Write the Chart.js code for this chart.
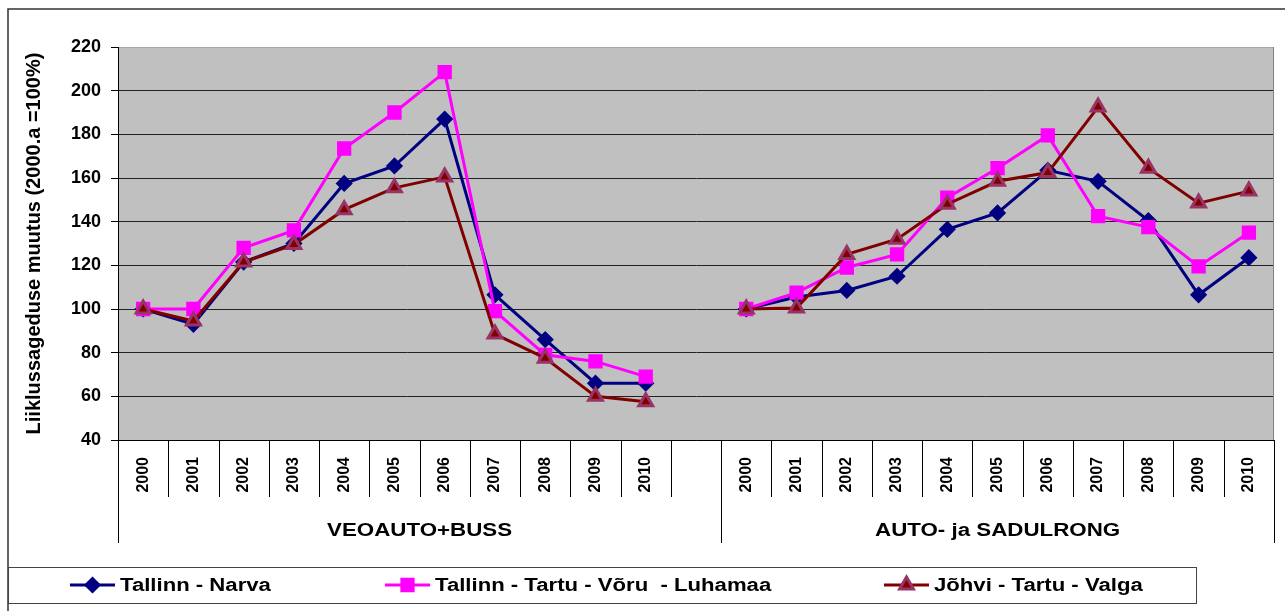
<!DOCTYPE html>
<html>
<head>
<meta charset="utf-8">
<script src="https://cdn.jsdelivr.net/npm/chart.js@4.4.0/dist/chart.umd.min.js"></script>
<style>
  body { margin: 0; background: #fff; }
  #chart { display: block; }
</style>
</head>
<body>
<canvas id="chart" width="1285" height="611"></canvas>
<script>
// years on each half of the axis, the two groups and the series names
const years = ['2000', '2001', '2002', '2003', '2004', '2005', '2006', '2007', '2008', '2009', '2010'];
const groups = ['VEOAUTO+BUSS', 'AUTO- ja SADULRONG'];
const seriesNames = ['Tallinn - Narva', 'Tallinn - Tartu - Võru  - Luhamaa', 'Jõhvi - Tartu - Valga'];

// values, left group (VEOAUTO+BUSS) then right group (AUTO- ja SADULRONG)
const narvaBus = [100, 93, 121.5, 130, 157.5, 165.5, 187, 106.5, 86, 66, 66];
const voruBus = [100, 100, 128, 136, 173.5, 190, 208.5, 99, 79, 76, 69];
const valgaBus = [100, 94.5, 121.5, 129.5, 145.5, 155.5, 160.5, 88.5, 77.5, 60, 57.5];

const narvaTrain = [100, 105.5, 108.5, 115, 136.5, 144, 163.5, 158.5, 140.5, 106.5, 123.5];
const voruTrain = [100, 107.5, 119, 125, 151, 164.5, 179.5, 142.5, 137.5, 119.5, 135];
const valgaTrain = [100, 100.5, 125, 132, 148, 158.5, 162.5, 192.5, 164.5, 148.5, 154];

const yTicks = { min: 40, max: 220, step: 20 };

// one empty slot between the two groups
const labels = [...years, '', ...years];
const joinGroups = (a, b) => [...a, null, ...b];

const FONT = 'Arial, "Liberation Sans", sans-serif';

// the original picture is stretched sideways, so its flat texts are wide
function wideText(ctx, text, x, y, stretch) {
    ctx.save();
    ctx.translate(x, y);
    ctx.scale(stretch, 1);
    ctx.fillText(text, 0, 0);
    ctx.restore();
}

// plot background, outer frame, group separators, group names and the boxed legend
const decorations = {
    id: 'decorations',
    beforeDraw(chart) {
        const { ctx, chartArea } = chart;
        ctx.save();
        ctx.fillStyle = '#c0c0c0';
        ctx.fillRect(chartArea.left, chartArea.top, chartArea.right - chartArea.left, chartArea.bottom - chartArea.top);
        ctx.strokeStyle = '#333';
        ctx.lineWidth = 1.5;
        ctx.beginPath();
        ctx.moveTo(8, chart.height);
        ctx.lineTo(8, 9);
        ctx.lineTo(chart.width, 9);
        ctx.stroke();
        ctx.restore();
    },
    afterDraw(chart) {
        const { ctx, chartArea } = chart;
        const x = chart.scales.x;
        const slot = (x.right - x.left) / labels.length;
        ctx.save();

        // right edge of the plot
        ctx.strokeStyle = '#808080';
        ctx.lineWidth = 1;
        ctx.beginPath();
        ctx.moveTo(chartArea.right - 0.5, chartArea.top);
        ctx.lineTo(chartArea.right - 0.5, chartArea.bottom);
        ctx.stroke();

        // separators under the axis, long ones at the group edges
        ctx.strokeStyle = '#000';
        const gapIndex = years.length + 1;
        for (let i = 0; i <= labels.length; i++) {
            const px = Math.round(x.left + i * slot) + 0.5;
            const tall = i === 0 || i === gapIndex || i === labels.length;
            ctx.beginPath();
            ctx.moveTo(px, x.top);
            ctx.lineTo(px, x.top + (tall ? 103 : 57));
            ctx.stroke();
        }

        // group names
        ctx.fillStyle = '#000';
        ctx.font = 'bold 18px ' + FONT;
        ctx.textAlign = 'center';
        ctx.textBaseline = 'middle';
        wideText(ctx, groups[0], x.left + slot * gapIndex / 2, x.top + 91, 1.24);
        wideText(ctx, groups[1], x.left + slot * (gapIndex + labels.length) / 2, x.top + 91, 1.24);

        // legend box
        ctx.strokeStyle = '#444';
        ctx.strokeRect(8.5, 567.5, 1188, 36);
        const starts = [70, 385, 884];
        const ly = 585;
        ctx.textAlign = 'left';
        ctx.font = 'bold 18px ' + FONT;
        chart.data.datasets.forEach((ds, i) => {
            const sx = starts[i];
            ctx.strokeStyle = ds.borderColor;
            ctx.lineWidth = 3;
            ctx.beginPath();
            ctx.moveTo(sx, ly);
            ctx.lineTo(sx + 45, ly);
            ctx.stroke();
            ctx.fillStyle = ds.pointBackgroundColor;
            ctx.strokeStyle = ds.pointBorderColor;
            Chart.helpers.drawPoint(ctx, {
                pointStyle: ds.pointStyle,
                radius: ds.pointRadius,
                borderWidth: 1,
                rotation: 0
            }, sx + 22.5, ly);
            ctx.fillStyle = '#000';
            wideText(ctx, ds.label, sx + 50, ly + 1, 1.23);
        });
        ctx.restore();
    }
};

const ctx = document.getElementById('chart').getContext('2d');

new Chart(ctx, {
    type: 'line',
    data: {
        labels: labels,
        datasets: [{
            label: seriesNames[0],
            data: joinGroups(narvaBus, narvaTrain),
            borderColor: '#000080',
            backgroundColor: '#000080',
            pointBackgroundColor: '#000080',
            pointBorderColor: '#000080',
            pointStyle: 'rectRot',
            pointRadius: 6.5,
            borderWidth: 3,
            order: 3
        }, {
            label: seriesNames[1],
            data: joinGroups(voruBus, voruTrain),
            borderColor: '#ff00ff',
            backgroundColor: '#ff00ff',
            pointBackgroundColor: '#ff00ff',
            pointBorderColor: '#ff00ff',
            pointStyle: 'rect',
            pointRadius: 8,
            borderWidth: 3,
            order: 2
        }, {
            label: seriesNames[2],
            data: joinGroups(valgaBus, valgaTrain),
            borderColor: '#800000',
            backgroundColor: '#800000',
            pointBackgroundColor: '#800000',
            pointBorderColor: '#993366',
            pointStyle: 'triangle',
            pointRadius: 8,
            borderWidth: 3,
            order: 1
        }]
    },
    options: {
        responsive: false,
        animation: false,
        spanGaps: false,
        layout: { padding: { left: 0, top: 47, right: 8, bottom: 66 } },
        elements: {
            line: { tension: 0 },
            point: { borderWidth: 1, hoverRadius: 8 }
        },
        plugins: {
            legend: { display: false },
            tooltip: { enabled: false }
        },
        scales: {
            x: {
                offset: true,
                grid: { display: false },
                border: { display: true, color: '#000', width: 1 },
                ticks: {
                    autoSkip: false,
                    minRotation: 90,
                    maxRotation: 90,
                    padding: 9,
                    color: '#000',
                    font: { family: FONT, size: 16, weight: 'bold' }
                },
                afterFit(scale) { scale.height = 105; }
            },
            y: {
                min: yTicks.min,
                max: yTicks.max,
                border: { display: true, color: '#000', width: 1 },
                grid: {
                    color: (c) => c.tick && c.tick.value === yTicks.max ? '#a8a8a8' : '#222',
                    tickColor: '#000',
                    tickLength: 7,
                    lineWidth: 1
                },
                ticks: {
                    stepSize: yTicks.step,
                    padding: 10,
                    color: '#000',
                    font: { family: FONT, size: 18, weight: 'bold' }
                },
                title: {
                    display: true,
                    text: 'Liiklussageduse muutus (2000.a =100%)',
                    color: '#000',
                    padding: { top: 22, bottom: 0 },
                    font: { family: FONT, size: 20, weight: 'bold' }
                },
                afterFit(scale) { scale.width = 118; }
            }
        }
    },
    plugins: [decorations]
});
</script>
</body>
</html>
